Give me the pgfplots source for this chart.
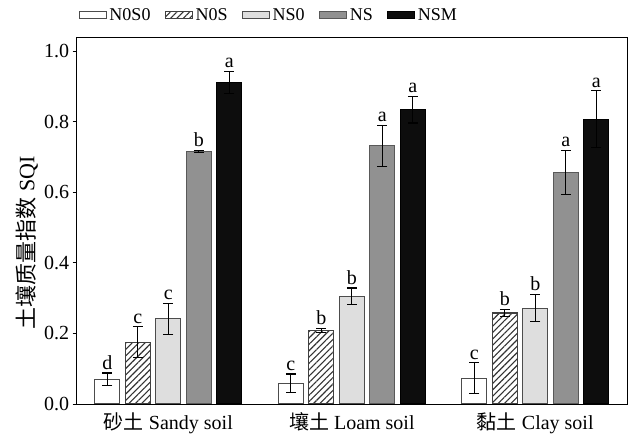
\documentclass[border=0pt]{standalone}
\usepackage{pgfplots}
\pgfplotsset{compat=1.18}
\usepackage{pgfplotstable}
\usepackage{fontspec}
\setmainfont{Liberation Serif}
\newfontfamily\cjk{Noto Sans CJK SC}
\usetikzlibrary{patterns.meta}

\pgfplotstableread{
x y err lab
0 0.070 0.018 d
1 0.059 0.026 c
2 0.073 0.044 c
}\tA
\pgfplotstableread{
x y err lab
0 0.175 0.044 c
1 0.209 0.005 b
2 0.258 0.011 b
}\tB
\pgfplotstableread{
x y err lab
0 0.242 0.044 c
1 0.305 0.024 b
2 0.272 0.039 b
}\tC
\pgfplotstableread{
x y err lab
0 0.717 0.003 b
1 0.732 0.059 a
2 0.656 0.063 a
}\tD
\pgfplotstableread{
x y err lab
0 0.912 0.031 a
1 0.835 0.038 a
2 0.808 0.080 a
}\tE

\begin{document}
\begin{tikzpicture}
\begin{axis}[
  scale only axis, width=550.3bp, height=366.7bp,
  xmin=-0.5, xmax=2.5, ymin=0, ymax=1.04,
  ybar=5.5bp, bar width=25bp,
  xtick={0,1,2},
  xticklabels={{\cjk 砂土} Sandy soil,{\cjk 壤土} Loam soil,{\cjk 黏土} Clay soil},
  x tick style={draw=none},
  ytick={0,0.2,0.4,0.6,0.8,1.0},
  ytick pos=left, tick align=outside, major tick length=4bp,
  y tick style={line width=1bp,black},
  /pgf/number format/assume math mode=true,
  yticklabel style={/pgf/number format/.cd, fixed, fixed zerofill, precision=1},
  tick label style={font=\fontsize{20bp}{23bp}\selectfont},
  xticklabel style={font=\fontsize{20bp}{23bp}\selectfont, yshift=-1bp},
  ylabel={{\cjk 土壤质量指数} SQI},
  ylabel style={font=\fontsize{22bp}{25bp}\selectfont, at={(rel axis cs:0,0.44)}, yshift=50bp, anchor=center},
  axis line style={line width=1bp},
  legend columns=5,
  legend style={draw=none, fill=none, at={(rel axis cs:0,1)}, anchor=west,
    xshift=2bp, yshift=22bp,
    font=\fontsize{18bp}{20bp}\selectfont,
    /tikz/every even column/.append style={column sep=12bp},
    inner sep=0pt, nodes={inner xsep=2.5bp}},
  area legend,
  legend image code/.code={\draw[#1] (0bp,-3.5bp) rectangle (27bp,3.5bp);},
  error bars/y dir=both, error bars/y explicit,
  error bars/error bar style={black, line width=1.1bp},
  error bars/error mark=-,
  error bars/error mark options={rotate=90, black, mark size=5bp, line width=1.1bp},
  point meta=explicit symbolic,
  nodes near coords={\pgfplotspointmeta},
  visualization depends on={\thisrow{err} \as \myerr},
  every node near coord/.append style={shift={(axis direction cs:0,\myerr)}, anchor=south, inner sep=1bp, yshift=2bp, font=\fontsize{20bp}{23bp}\selectfont, black},
]
\addplot[fill=white, draw=black!70, line width=1.1bp] table[x=x,y=y,y error=err,meta=lab]{\tA};
\addplot[fill=white, draw=black!75, line width=1.1bp, postaction={pattern={Lines[angle=45,distance=4.5bp,line width=1.1bp]}, pattern color=black!80}] table[x=x,y=y,y error=err,meta=lab]{\tB};
\addplot[fill=black!13, draw=black!70, line width=1.1bp] table[x=x,y=y,y error=err,meta=lab]{\tC};
\addplot[fill=black!43, draw=black!65, line width=1.1bp] table[x=x,y=y,y error=err,meta=lab]{\tD};
\addplot[fill=black!95, draw=black, line width=1.1bp] table[x=x,y=y,y error=err,meta=lab]{\tE};
\legend{N0S0,N0S,NS0,NS,NSM}
\coordinate (SW) at (rel axis cs:0,0);
\coordinate (NE) at (rel axis cs:1,1);
\end{axis}
\pgfresetboundingbox
\path[use as bounding box] ([shift={(-76.7bp,-33bp)}]SW) rectangle ([shift={(6bp,37.3bp)}]NE);
\end{tikzpicture}
\end{document}
